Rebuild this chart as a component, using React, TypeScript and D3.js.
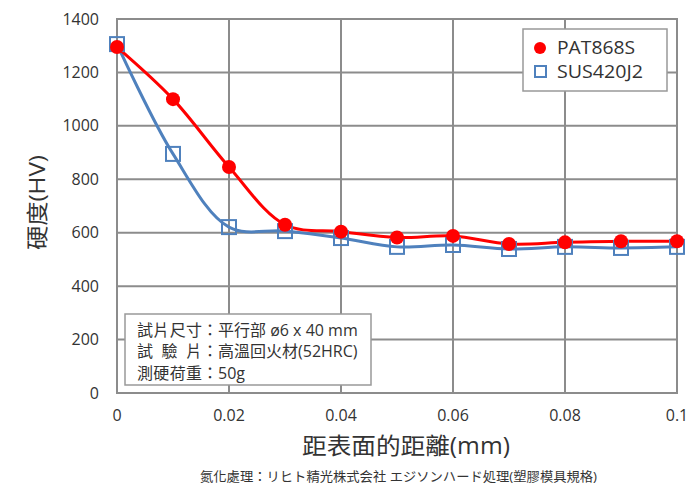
import React from "react";
import * as d3 from "d3";

const depths = [0, 0.01, 0.02, 0.03, 0.04, 0.05, 0.06, 0.07, 0.08, 0.09, 0.1];
const pat868s = [1295, 1100, 846, 630, 604, 582, 588, 558, 564, 568, 568];
const sus420j2 = [1306, 895, 621, 606, 580, 547, 554, 539, 547, 543, 547];
const xTicks = [0, 0.02, 0.04, 0.06, 0.08, 0.1];
const yTicks = [0, 200, 400, 600, 800, 1000, 1200, 1400];
const seriesNames = ["PAT868S", "SUS420J2"];
const noteLabels = ["試片尺寸", "試 驗 片", "測硬荷重"];
const noteValues = ["平行部 ø6 x 40 mm", "高溫回火材(52HRC)", "50g"];
const xTitle = "距表面的距離(mm)";
const yTitle = "硬度(HV)";
const footer = "氮化處理：リヒト精光株式会社 エジソンハード処理(塑膠模具規格)";

const W = 691, H = 488;
const FONT = "'Open Sans', 'Noto Sans CJK TC', sans-serif";

export default function App() {
  const x = d3.scaleLinear().domain([0, 0.1]).range([117, 677]);
  const y = d3.scaleLinear().domain([0, 1400]).range([393, 19]);
  const line = d3
    .line<number>()
    .x((_, i) => x(depths[i]))
    .y((d) => y(d))
    .curve(d3.curveCatmullRom.alpha(0.5));
  const red = "#ff0000";
  const blue = "#4f81bd";
  const grid = "#8c8c8c";
  return (
    <svg width={W} height={H} style={{ position: "absolute", left: 0, top: 0, background: "#fff" }} fontFamily={FONT}>
      {xTicks.map((t) => (
        <line key={"gx" + t} x1={x(t)} x2={x(t)} y1={y(1400)} y2={y(0)} stroke={grid} strokeWidth={2} />
      ))}
      {yTicks.map((t) => (
        <line key={"gy" + t} x1={x(0)} x2={x(0.1)} y1={y(t)} y2={y(t)} stroke={grid} strokeWidth={2} />
      ))}
      <rect x={x(0)} y={y(1400)} width={x(0.1) - x(0)} height={y(0) - y(1400)} fill="none" stroke={grid} strokeWidth={2} />
      {yTicks.map((t) => (
        <text key={"ty" + t} x={99} y={y(t)} dy="0.35em" textAnchor="end" fontSize={16} fill="#333">
          {t}
        </text>
      ))}
      {xTicks.map((t) => (
        <text key={"tx" + t} x={x(t)} y={415} dy="0.35em" textAnchor="middle" fontSize={16} fill="#333">
          {d3.format("~g")(t)}
        </text>
      ))}
      <text x={302} y={446} dy="0.35em" fontSize={23} fill="#333" textLength={208} lengthAdjust="spacingAndGlyphs">
        {xTitle}
      </text>
      <text transform={`translate(37,250) rotate(-90)`} dy="0.35em" fontSize={22} fill="#333" textLength={95} lengthAdjust="spacingAndGlyphs">
        {yTitle}
      </text>
      <text x={200} y={476} dy="0.35em" fontSize={13} fill="#333" textLength={397} lengthAdjust="spacingAndGlyphs">
        {footer}
      </text>

      <path d={line(sus420j2) || ""} fill="none" stroke={blue} strokeWidth={3} />
      <path d={line(pat868s) || ""} fill="none" stroke={red} strokeWidth={3} />
      {sus420j2.map((v, i) => (
        <rect key={"s" + i} x={x(depths[i]) - 7} y={y(v) - 7} width={14} height={14} fill="none" stroke={blue} strokeWidth={2} />
      ))}
      {pat868s.map((v, i) => (
        <circle key={"p" + i} cx={x(depths[i])} cy={y(v)} r={7} fill={red} />
      ))}

      <rect x={523} y={29} width={144} height={62} fill="#fff" stroke="#999" strokeWidth={1.5} />
      <circle cx={540} cy={48} r={6} fill={red} />
      <text x={557} y={48} dy="0.35em" fontSize={18} fill="#333" textLength={78} lengthAdjust="spacingAndGlyphs">{seriesNames[0]}</text>
      <rect x={535} y={66} width={11} height={11} fill="none" stroke={blue} strokeWidth={2} />
      <text x={557} y={72} dy="0.35em" fontSize={18} fill="#333" textLength={86} lengthAdjust="spacingAndGlyphs">{seriesNames[1]}</text>

      <rect x={125} y={314} width={246} height={71} fill="#fff" stroke="#999" strokeWidth={1.5} />
      {noteLabels.map((s, i) => (
        <g key={"n" + i}>
          <text x={137} y={330 + i * 21.5} dy="0.35em" fontSize={16} fill="#333" textLength={65} lengthAdjust="spacing">
            {s}
          </text>
          <text x={202} y={330 + i * 21.5} dy="0.35em" fontSize={16} fill="#333">
            {"："}
            {noteValues[i]}
          </text>
        </g>
      ))}
    </svg>
  );
}
